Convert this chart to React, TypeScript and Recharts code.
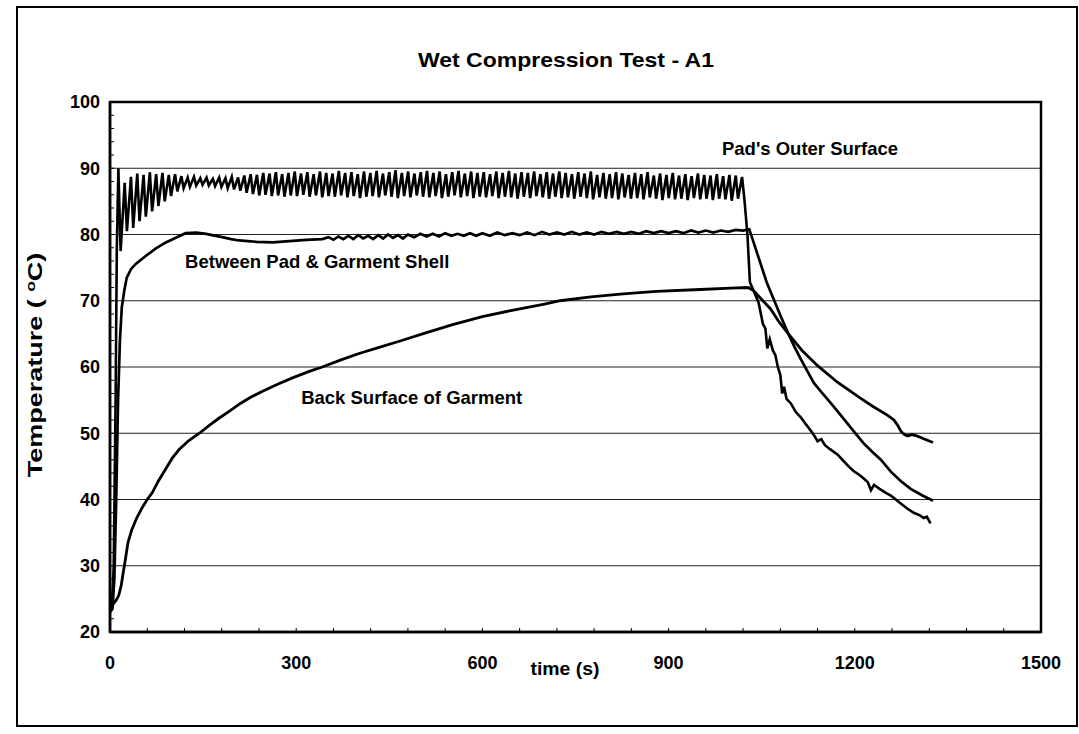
import { LineChart, Line, XAxis, YAxis, ReferenceLine, ReferenceArea, ReferenceDot } from "recharts";

const FONT = '"Liberation Sans", Arial, Helvetica, sans-serif';

const timeTicks = [0, 60, 120, 180, 240, 300, 360, 420, 480, 540, 600, 660, 720, 780, 840, 900, 960, 1020, 1080, 1140, 1200, 1260, 1320, 1380, 1440, 1500];
const timeLabels = [0, 300, 600, 900, 1200, 1500];
const tempTicks = [20, 22, 24, 26, 28, 30, 32, 34, 36, 38, 40, 42, 44, 46, 48, 50, 52, 54, 56, 58, 60, 62, 64, 66, 68, 70, 72, 74, 76, 78, 80, 82, 84, 86, 88, 90, 92, 94, 96, 98, 100];
const tempLabels = [20, 30, 40, 50, 60, 70, 80, 90, 100];
const gridTemps = [30, 40, 50, 60, 70, 80, 90];

// Pad's outer surface: warm-up, then one peak + one trough per compression cycle, then cooling
const outerRise = [[0, 23.5], [3, 23.8], [6, 30], [9, 55], [11, 78]];
const cycleStart = 13.5;
const cyclePeriod = 10.15;
const troughLag = 3.6; // the drop after each peak is quicker than the recovery
const outerPeaks = [
  90.0, 87.8, 88.7, 89.2, 89.0, 89.4, 89.1, 89.3, 89.0, 89.1,
  88.8, 88.6, 88.7, 88.5, 88.6, 88.4, 88.6, 88.5, 88.7, 88.6,
  88.9, 89.1, 89.0, 89.3, 89.2, 89.4, 89.1, 89.3, 89.5, 89.2,
  89.4, 89.1, 89.5, 89.3, 89.2, 89.6, 89.3, 89.4, 89.1, 89.5,
  89.3, 89.6, 89.2, 89.4, 89.7, 89.3, 89.5, 89.2, 89.4, 89.6,
  89.3, 89.5, 89.1, 89.4, 89.6, 89.2, 89.5, 89.3, 89.4, 89.1,
  89.5, 89.3, 89.6, 89.2, 89.4, 89.3, 89.5, 89.1, 89.4, 89.2,
  89.5, 89.3, 89.1, 89.4, 89.2, 89.5, 89.0, 89.3, 89.1, 89.4,
  89.2, 89.0, 89.3, 89.1, 89.4, 88.9, 89.2, 89.0, 89.3, 88.9,
  89.1, 88.8, 89.2, 89.0, 88.9, 89.1, 88.8, 89.0, 88.9, 88.7,
];
const outerTroughs = [
  77.5, 80.5, 81.0, 82.0, 82.7, 83.5, 84.3, 85.0, 85.8, 86.5,
  87.0, 87.2, 87.4, 87.5, 87.4, 87.3, 87.2, 87.0, 86.8, 86.6,
  86.3, 86.1, 85.9, 86.0, 85.8, 85.9, 85.7, 85.9, 85.8, 86.0,
  85.7, 85.9, 85.6, 85.8, 85.7, 85.9, 85.6, 85.8, 85.5, 85.7,
  85.8, 85.6, 85.9, 85.7, 85.5, 85.8, 85.6, 85.9, 85.7, 85.6,
  85.8, 85.5, 85.7, 85.9, 85.6, 85.8, 85.5, 85.7, 85.6, 85.8,
  85.5, 85.7, 85.6, 85.4, 85.7, 85.5, 85.8, 85.6, 85.4, 85.7,
  85.5, 85.6, 85.4, 85.7, 85.5, 85.3, 85.6, 85.4, 85.5, 85.3,
  85.6, 85.4, 85.5, 85.3, 85.6, 85.4, 85.2, 85.5, 85.3, 85.4,
  85.2, 85.5, 85.3, 85.4, 85.2, 85.4, 85.3, 85.1, 85.4, 85.5,
];
const outerCooling = [
  [1027, 80], [1031, 72.8], [1037, 71.5], [1045, 69.7], [1052, 66.5], [1056, 65.8], [1059, 62.8],
  [1063, 64.2], [1068, 62.5], [1072, 61.8], [1076, 60], [1080, 58.8], [1083, 56], [1086, 57],
  [1090, 55.2], [1097, 54.5], [1105, 53.2], [1113, 52.4], [1120, 51.5], [1129, 50.4], [1135, 49.6],
  [1140, 48.8], [1146, 49.1], [1152, 48.2], [1160, 47.6], [1172, 46.8], [1180, 46], [1190, 45],
  [1198, 44.3], [1206, 43.8], [1214, 43.2], [1221, 42.6], [1226, 41.4], [1231, 42.2], [1240, 41.6],
  [1250, 41], [1258, 40.6], [1266, 40], [1274, 39.4], [1285, 38.6], [1295, 38], [1305, 37.6],
  [1311, 37.2], [1316, 37.4], [1322, 36.4],
];

// Between pad & garment shell
const shellSeries = [
  [0, 23], [4, 23.5], [7, 28], [10, 40], [13, 55], [16, 64], [19, 69], [23, 71.5], [27, 73.5],
  [34, 74.8], [42, 75.6], [58, 76.8], [74, 77.9], [90, 78.8], [106, 79.5], [122, 80.2], [139, 80.3],
  [155, 80.1], [170, 79.8], [181, 79.6], [195, 79.3], [208, 79.1], [222, 79.0], [236, 78.9],
  [262, 78.8], [289, 79.0], [316, 79.2], [342, 79.3],
  [352, 79.6], [360, 79.2], [368, 79.7], [376, 79.3], [384, 79.8], [392, 79.3], [400, 79.9],
  [408, 79.4], [416, 79.8], [424, 79.3], [432, 79.9], [440, 79.4], [448, 80.0], [456, 79.5],
  [464, 79.9], [472, 79.4], [480, 80.0], [490, 79.6], [500, 80.1], [510, 79.7], [520, 80.1],
  [530, 79.7], [540, 80.2], [550, 79.8], [560, 80.1], [570, 79.8], [580, 80.2], [590, 79.8],
  [600, 80.2], [612, 79.8], [624, 80.3], [636, 79.9], [648, 80.2], [660, 79.9], [672, 80.3],
  [684, 79.9], [696, 80.4], [708, 80.0], [720, 80.3], [732, 80.0], [744, 80.4], [756, 80.0],
  [768, 80.3], [780, 80.0], [792, 80.4], [804, 80.1], [816, 80.4], [828, 80.1], [840, 80.4],
  [852, 80.1], [864, 80.5], [876, 80.2], [888, 80.5], [900, 80.2], [912, 80.5], [924, 80.2],
  [936, 80.6], [948, 80.3], [960, 80.6], [972, 80.3], [984, 80.6], [996, 80.4], [1008, 80.7],
  [1020, 80.6], [1030, 80.8],
  [1045, 76.5], [1058, 72.8], [1069, 70.3], [1080, 67.8], [1093, 65], [1103, 63], [1113, 61.2],
  [1124, 59.3], [1134, 57.6], [1148, 56], [1161, 54.6], [1175, 53], [1188, 51.5], [1200, 50.1],
  [1214, 48.5], [1228, 47.2], [1242, 46], [1258, 44.2], [1274, 42.8], [1290, 41.6], [1309, 40.6],
  [1326, 39.8],
];

// Back surface of garment
const backSeries = [
  [0, 23.5], [5, 24.2], [10, 24.8], [14, 25.5], [18, 27], [21, 28.8], [24, 30.5], [29, 33.5],
  [35, 35.4], [43, 37.2], [52, 38.8], [60, 40], [68, 41], [78, 42.8], [89, 44.5], [100, 46.2],
  [111, 47.5], [127, 48.9], [144, 50], [160, 51.2], [176, 52.3], [192, 53.3], [210, 54.5],
  [228, 55.5], [245, 56.3], [270, 57.4], [295, 58.4], [320, 59.3], [342, 60], [370, 61], [400, 62],
  [435, 63], [470, 64], [510, 65.2], [552, 66.4], [600, 67.6], [650, 68.6], [700, 69.5], [725, 70],
  [775, 70.6], [822, 71], [880, 71.4], [951, 71.7], [1000, 71.9], [1028, 72], [1036, 71.6],
  [1050, 70.2], [1064, 68.8], [1078, 66.8], [1093, 65], [1115, 62.5], [1140, 60.2], [1172, 57.7],
  [1209, 55.3], [1230, 54], [1253, 52.7], [1263, 52], [1269, 51.2], [1275, 50.2], [1280, 49.8],
  [1285, 49.6], [1292, 49.8], [1300, 49.6], [1310, 49.2], [1326, 48.6],
];

const toPoints = (rows: number[][]) => rows.map(([t, v]) => ({ t, v }));

const outerCycles: { t: number; v: number }[] = [];
outerPeaks.forEach((peak, i) => {
  const t = cycleStart + i * cyclePeriod;
  outerCycles.push({ t, v: peak });
  if (outerTroughs[i] != null) outerCycles.push({ t: t + troughLag, v: outerTroughs[i] });
});
const outerData = [...toPoints(outerRise), ...outerCycles, ...toPoints(outerCooling)];
const shellData = toPoints(shellSeries);
const backData = toPoints(backSeries);

function TimeTick({ x, y, payload }: any) {
  if (!timeLabels.includes(payload.value)) return <g />;
  return (
    <text x={x} y={y} textAnchor="middle" dy="0.71em" fontFamily={FONT} fontWeight="bold" fontSize={18} fill="#000">
      {payload.value}
    </text>
  );
}

function TempTick({ x, y, payload }: any) {
  if (!tempLabels.includes(payload.value)) return <g />;
  return (
    <text x={x} y={y} textAnchor="end" dy="0.36em" fontFamily={FONT} fontWeight="bold" fontSize={18} fill="#000">
      {payload.value}
    </text>
  );
}

function CurveLabel({ viewBox, text }: any) {
  return (
    <text x={viewBox.x} y={viewBox.y} textAnchor="start" fontFamily={FONT} fontWeight="bold" fontSize={18.5} fill="#000">
      {text}
    </text>
  );
}

export default function App() {
  return (
    <div style={{ position: "absolute", left: 0, top: 0, width: 1079, height: 734, background: "#fff" }}>
      <LineChart width={1079} height={734} margin={{ top: 102, right: 38, bottom: 42, left: 50 }}>
        {gridTemps.map((v) => (
          <ReferenceLine key={v} y={v} stroke="#222" strokeWidth={1} />
        ))}
        <ReferenceArea x1={0} x2={1500} y1={20} y2={100} fill="none" stroke="#000" strokeWidth={2.5} />
        <XAxis
          dataKey="t"
          type="number"
          domain={[0, 1500]}
          ticks={timeTicks}
          interval={0}
          height={60}
          tickSize={-4}
          tickMargin={28}
          tick={<TimeTick />}
          axisLine={{ stroke: "#000", strokeWidth: 2.5 }}
          tickLine={{ stroke: "#000", strokeWidth: 1 }}
        />
        <YAxis
          type="number"
          domain={[20, 100]}
          ticks={tempTicks}
          interval={0}
          width={60}
          tickSize={-4}
          tickMargin={14}
          tick={<TempTick />}
          axisLine={{ stroke: "#000", strokeWidth: 2.5 }}
          tickLine={{ stroke: "#000", strokeWidth: 1 }}
        />
        <Line data={backData} dataKey="v" type="linear" dot={false} stroke="#000" strokeWidth={2.8} isAnimationActive={false} />
        <Line data={shellData} dataKey="v" type="linear" dot={false} stroke="#000" strokeWidth={2.7} isAnimationActive={false} />
        <Line data={outerData} dataKey="v" type="linear" dot={false} stroke="#000" strokeWidth={2.6} isAnimationActive={false} />
        <ReferenceDot x={986} y={92} r={0} fill="none" stroke="none" label={<CurveLabel text="Pad's Outer Surface" />} />
        <ReferenceDot x={121} y={74.9} r={0} fill="none" stroke="none" label={<CurveLabel text="Between Pad & Garment Shell" />} />
        <ReferenceDot x={308} y={54.4} r={0} fill="none" stroke="none" label={<CurveLabel text="Back Surface of Garment" />} />
      </LineChart>
      <svg width={1079} height={734} style={{ position: "absolute", left: 0, top: 0, pointerEvents: "none" }}>
        <rect x={17} y={7} width={1060} height={719} fill="none" stroke="#000" strokeWidth={2} />
        <g transform="translate(566,67)">
          <text transform="scale(1.15,1)" textAnchor="middle" fontFamily={FONT} fontWeight="bold" fontSize={20} fill="#000">
            Wet Compression Test - A1
          </text>
        </g>
        <g transform="translate(42,365) rotate(-90)">
          <text transform="scale(1.35,1)" textAnchor="middle" fontFamily={FONT} fontWeight="bold" fontSize={20} fill="#000">
            {"Temperature ( "}
            <tspan dy={-7} fontSize={13}>o</tspan>
            <tspan dy={7}>C)</tspan>
          </text>
        </g>
        <g transform="translate(565,675)">
          <text transform="scale(1.05,1)" textAnchor="middle" fontFamily={FONT} fontWeight="bold" fontSize={18.5} fill="#000">
            time (s)
          </text>
        </g>
      </svg>
    </div>
  );
}
